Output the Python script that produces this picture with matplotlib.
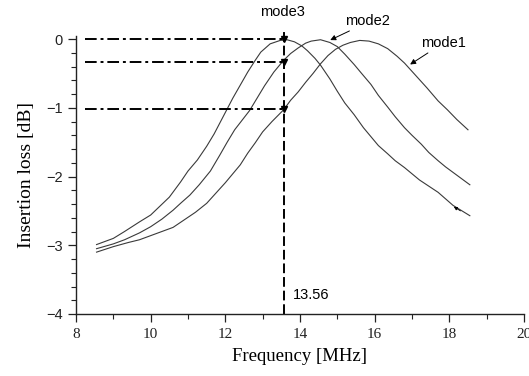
import matplotlib
matplotlib.use("Agg")
import matplotlib.pyplot as plt
from matplotlib.ticker import MultipleLocator

# ---- data ----
f_mode3 = [8.55, 9.0, 9.3, 9.7, 10.0, 10.5, 10.8, 11.0, 11.25, 11.5, 11.7, 11.95, 12.2, 12.4,
           12.6, 12.8, 12.95, 13.2, 13.47, 13.65, 13.85, 14.05, 14.2, 14.4, 14.55, 14.8, 15.0,
           15.2, 15.45, 15.7, 15.9, 16.1, 16.35, 16.55, 16.8, 17.2, 17.7, 18.1, 18.55]
il_mode3 = [-2.99, -2.90, -2.80, -2.66, -2.56, -2.30, -2.08, -1.92, -1.76, -1.56, -1.38, -1.12,
            -0.86, -0.67, -0.48, -0.31, -0.19, -0.07, -0.02, -0.01, -0.04, -0.10, -0.17, -0.28,
            -0.38, -0.58, -0.76, -0.93, -1.10, -1.29, -1.42, -1.55, -1.67, -1.77, -1.87, -2.05,
            -2.23, -2.42, -2.57]

f_mode2 = [8.55, 9.0, 9.3, 9.7, 10.0, 10.3, 10.6, 10.8, 11.05, 11.3, 11.6, 11.85, 12.05, 12.25,
           12.45, 12.65, 12.85, 13.05, 13.3, 13.56, 13.75, 13.95, 14.15, 14.3, 14.55, 14.8,
           15.0, 15.2, 15.45, 15.65, 15.9, 16.1, 16.35, 16.55, 16.8, 17.0, 17.25, 17.45, 17.7,
           17.9, 18.15, 18.35, 18.55]
il_mode2 = [-3.05, -2.98, -2.92, -2.82, -2.73, -2.62, -2.49, -2.39, -2.27, -2.12, -1.92, -1.69,
            -1.50, -1.32, -1.18, -1.04, -0.86, -0.68, -0.48, -0.31, -0.21, -0.13, -0.06, -0.03,
            -0.01, -0.05, -0.11, -0.22, -0.37, -0.50, -0.66, -0.82, -0.99, -1.13, -1.29, -1.40,
            -1.53, -1.65, -1.77, -1.86, -1.96, -2.04, -2.12]

f_mode1 = [8.55, 9.0, 9.4, 9.7, 10.1, 10.6, 10.9, 11.2, 11.5, 11.75, 12.0, 12.2, 12.4, 12.6,
           12.8, 13.0, 13.25, 13.56, 13.75, 13.95, 14.15, 14.35, 14.55, 14.75, 14.95, 15.15,
           15.35, 15.6, 15.85, 16.1, 16.35, 16.6, 16.8, 16.95, 17.2, 17.4, 17.7, 17.95, 18.2, 18.5]
il_mode1 = [-3.10, -3.02, -2.96, -2.92, -2.84, -2.74, -2.63, -2.52, -2.39, -2.24, -2.09, -1.96,
            -1.83, -1.66, -1.51, -1.35, -1.20, -1.03, -0.89, -0.77, -0.63, -0.50, -0.36, -0.24,
            -0.15, -0.09, -0.05, -0.02, -0.03, -0.07, -0.14, -0.25, -0.35, -0.44, -0.59, -0.71,
            -0.90, -1.03, -1.17, -1.32]

f_mark = 13.56
il_marks = [0.0, -0.33, -1.02]
mark_label = "13.56"

x_ticks = [8, 10, 12, 14, 16, 18, 20]
y_ticks = [0, -1, -2, -3, -4]

# ---- figure ----
fig = plt.figure(figsize=(5.29, 3.76), dpi=100)
ax = fig.add_axes([0.1437, 0.1649, 0.8468, 0.7404])
ax.set_xlim(8, 20)
ax.set_ylim(-4, 0.05)

lc = "#3a3a3a"
ax.plot(f_mode3, il_mode3, color=lc, lw=0.8)
ax.plot(f_mode2, il_mode2, color=lc, lw=0.8)
ax.plot(f_mode1, il_mode1, color=lc, lw=0.8)

# reference lines
for v in il_marks:
    ax.plot([8.25, f_mark], [v, v], color="black", lw=1.4, ls=(0, (6, 2, 1.5, 2)))
ax.plot([f_mark, f_mark], [-4, 0.1], color="black", lw=1.4, ls=(0, (5, 2)), clip_on=False)
ax.plot([f_mark] * len(il_marks), il_marks, ls="none", marker="v", ms=5,
        color="black", clip_on=False)
ax.text(f_mark + 0.25, -3.78, mark_label, fontsize=10.5, family="Liberation Sans")

# annotations
ax.text(13.52, 0.39, "mode3", fontsize=10.5, family="Liberation Sans", ha="center", va="center",
        clip_on=False)
ax.annotate("mode2", xy=(14.81, -0.015), xytext=(15.8, 0.26), fontsize=10.5,
            family="Liberation Sans", ha="center", va="center", annotation_clip=False,
            arrowprops=dict(arrowstyle="-|>", color="black", lw=0.7, mutation_scale=8,
                            shrinkA=0, shrinkB=0, relpos=(0.3, 0.1)))
ax.annotate("mode1", xy=(16.95, -0.37), xytext=(17.84, -0.06), fontsize=10.5,
            family="Liberation Sans", ha="center", va="center", annotation_clip=False,
            arrowprops=dict(arrowstyle="-|>", color="black", lw=0.7, mutation_scale=8,
                            shrinkA=0, shrinkB=0, relpos=(0.3, 0.1)))
ax.annotate("", xy=(18.12, -2.44), xytext=(18.3, -2.5),
            arrowprops=dict(arrowstyle="-|>", color="black", lw=0.6, mutation_scale=5,
                            shrinkA=0, shrinkB=0))

# axes styling
for s in ["top", "right"]:
    ax.spines[s].set_visible(False)
for s in ["left", "bottom"]:
    ax.spines[s].set_linewidth(1.0)
    ax.spines[s].set_color("#222222")

ax.set_xticks(x_ticks)
ax.set_yticks(y_ticks)
ax.xaxis.set_minor_locator(MultipleLocator(1))
ax.yaxis.set_minor_locator(MultipleLocator(0.2))
ax.tick_params(axis="both", which="major", direction="out", length=6, width=0.9, colors="#222222")
ax.tick_params(axis="both", which="minor", direction="out", length=3.5, width=0.8, colors="#222222")
ax.tick_params(axis="x", pad=4)
for lab in ax.get_xticklabels():
    lab.set_family("Liberation Serif")
    lab.set_fontsize(11)
for lab in ax.get_yticklabels():
    lab.set_family("Liberation Sans")
    lab.set_fontsize(10.5)

ax.set_xlabel("Frequency [MHz]", family="Liberation Serif", fontsize=13.5, labelpad=5)
ax.set_ylabel("Insertion loss [dB]", family="Liberation Serif", fontsize=14, labelpad=8)

fig.savefig("out.png", dpi=100)
